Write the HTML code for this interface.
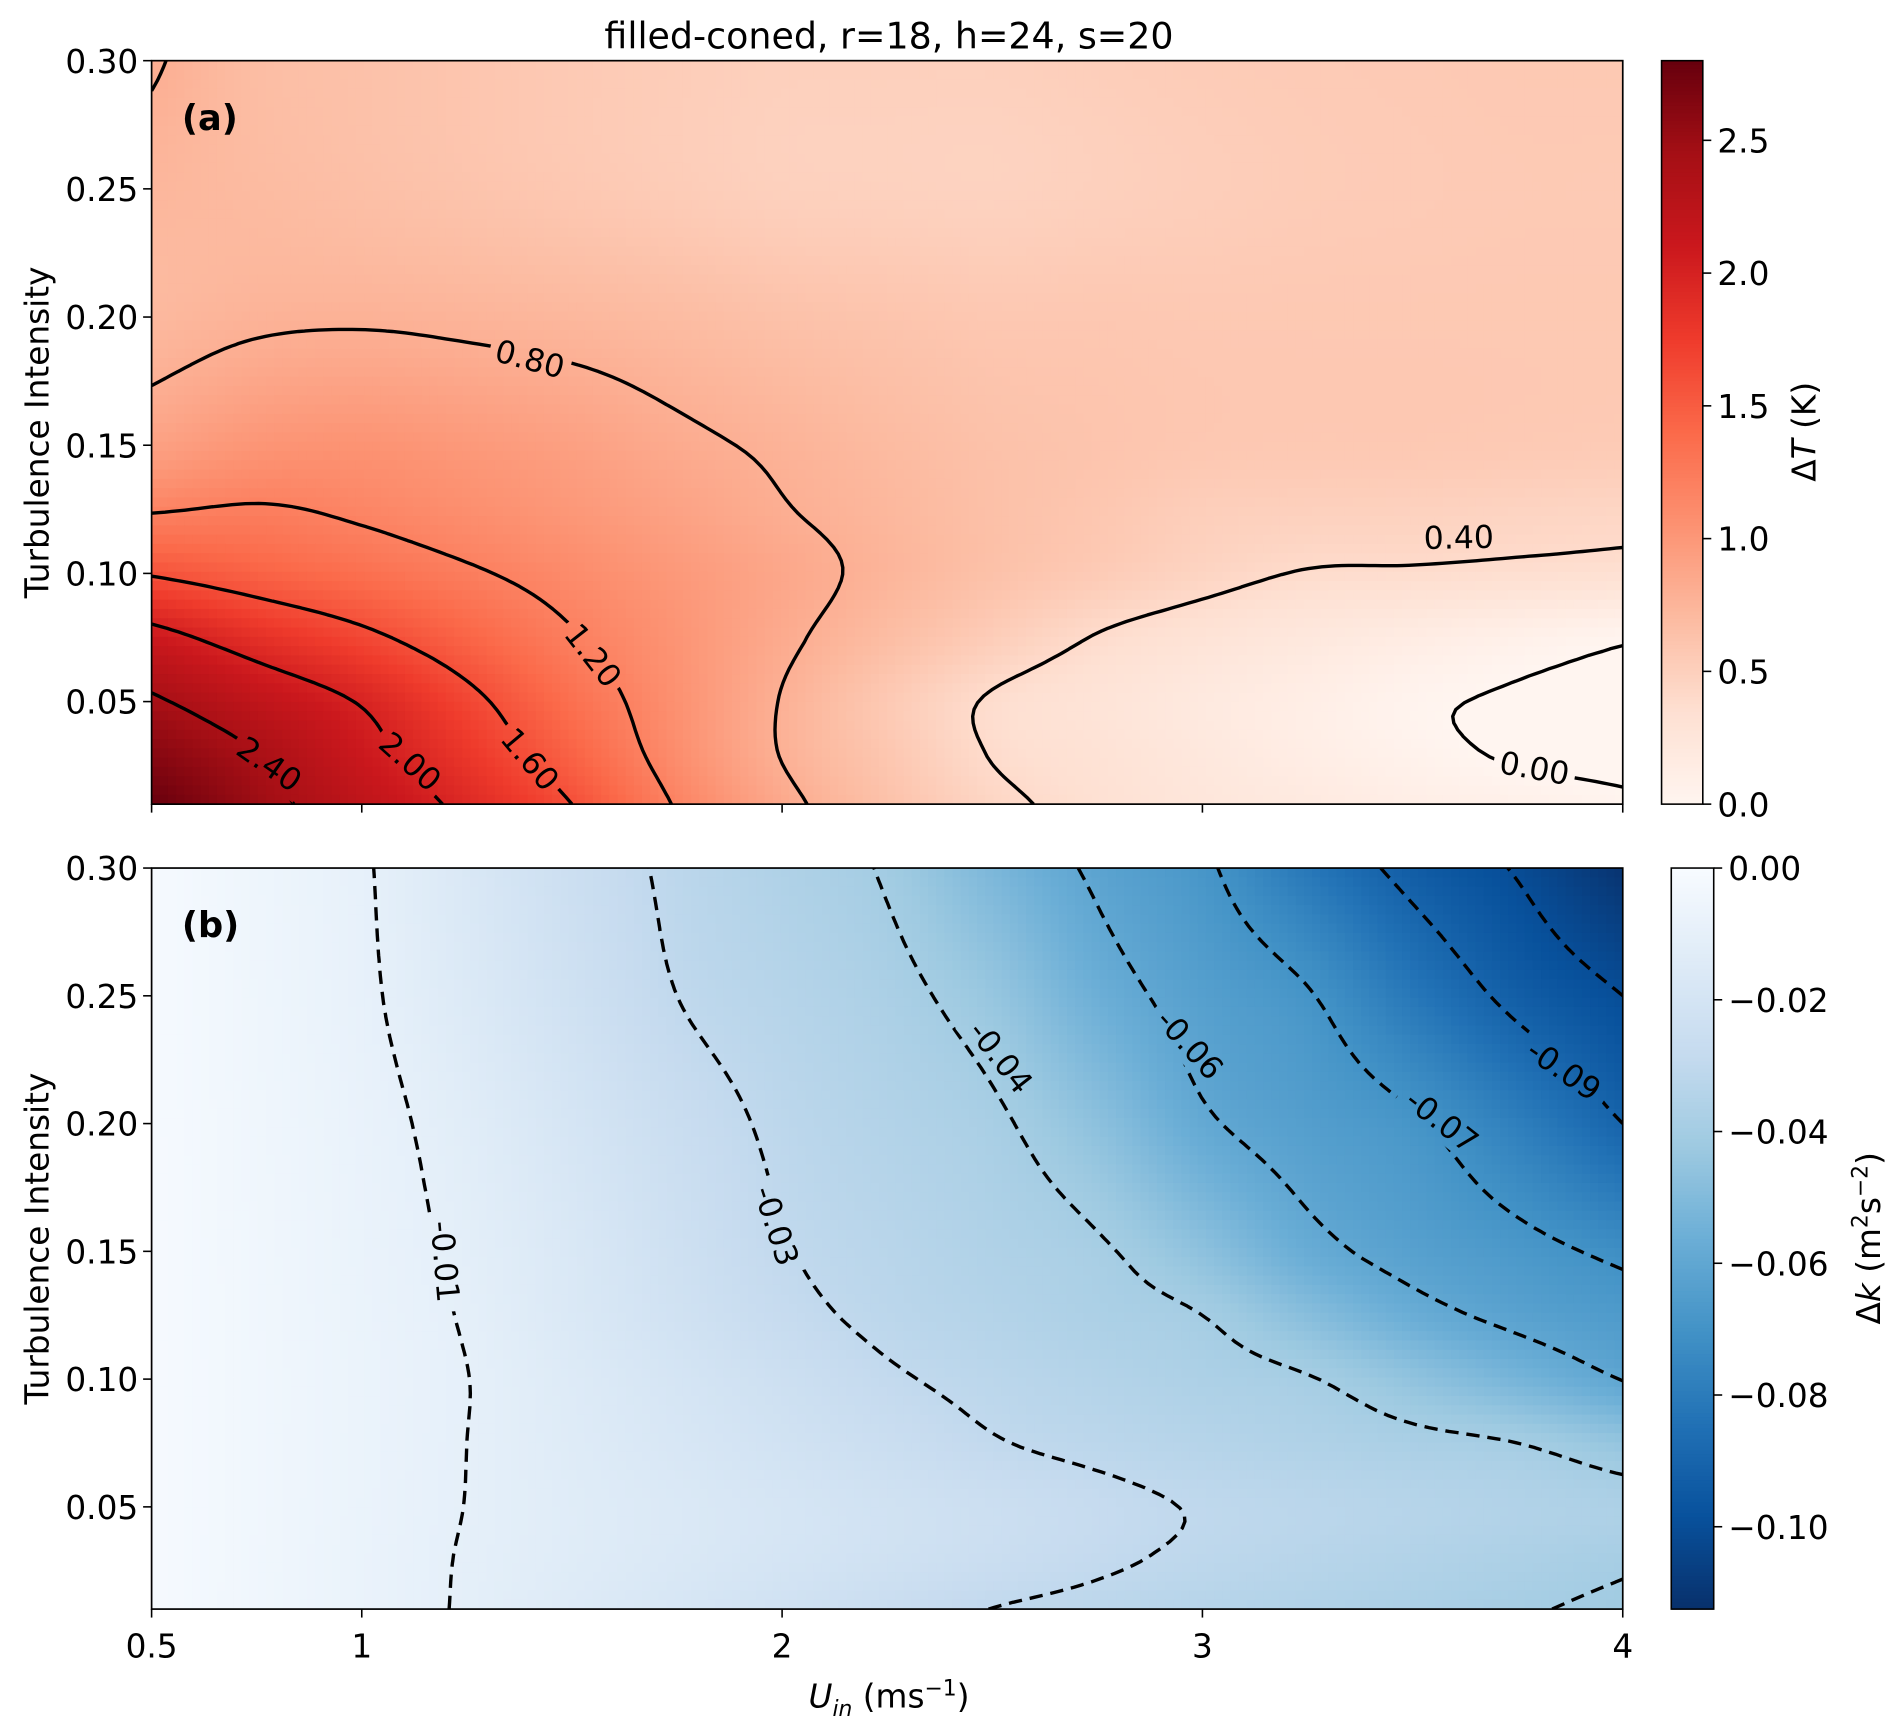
<!DOCTYPE html>
<html><head><meta charset="utf-8"><style>
html,body{margin:0;padding:0;background:#fff;}
svg{display:block;font-family:"DejaVu Sans","Liberation Sans",sans-serif;}
</style></head><body>
<svg id="fig" width="1892" height="1723" viewBox="0 0 1560 1420.6" xmlns="http://www.w3.org/2000/svg">
<text x="733" y="40" font-size="30" text-anchor="middle">filled-coned, r=18, h=24, s=20</text>
<g id="panelA"></g>
<g id="panelB"></g>
<g id="axes"></g>
</svg>
<script>
// ---- data ----
const xGrid=[0.5,0.75,1.0,1.25,1.5,1.75,2.0,2.25,2.5,2.75,3.0,3.25,3.5,3.75,4.0];
const yGrid=[0.01,0.03,0.05,0.075,0.10,0.125,0.15,0.20,0.25,0.30];
const deltaT=[
[2.80,2.50,2.22,1.93,1.60,1.18,0.86,0.64,0.45,0.34,0.25,0.19,0.12,0.08,0.03],
[2.62,2.40,2.10,1.79,1.45,1.09,0.79,0.59,0.39,0.31,0.22,0.13,0.05,-0.02,-0.05],
[2.44,2.21,1.98,1.67,1.35,1.06,0.79,0.57,0.38,0.29,0.20,0.12,0.03,-0.02,-0.04],
[2.10,1.86,1.66,1.44,1.22,1.03,0.84,0.68,0.53,0.39,0.30,0.22,0.15,0.08,0.02],
[1.58,1.46,1.35,1.23,1.11,0.99,0.87,0.75,0.64,0.55,0.46,0.39,0.38,0.36,0.34],
[1.18,1.22,1.16,1.08,1.00,0.91,0.81,0.73,0.65,0.59,0.52,0.50,0.49,0.47,0.45],
[0.92,1.02,1.04,0.99,0.93,0.84,0.77,0.70,0.64,0.61,0.58,0.57,0.57,0.56,0.55],
[0.72,0.77,0.78,0.76,0.73,0.69,0.64,0.61,0.58,0.58,0.57,0.57,0.57,0.57,0.57],
[0.74,0.70,0.66,0.62,0.58,0.54,0.50,0.49,0.48,0.50,0.52,0.54,0.55,0.56,0.56],
[0.82,0.68,0.64,0.60,0.56,0.53,0.50,0.50,0.50,0.52,0.54,0.55,0.56,0.57,0.57]];
const deltaK=[
[-0.001,-0.0042,-0.0073,-0.0106,-0.0146,-0.0185,-0.0224,-0.0264,-0.0301,-0.0320,-0.0338,-0.0356,-0.0374,-0.0393,-0.0415],
[-0.001,-0.0041,-0.0073,-0.0104,-0.0134,-0.0165,-0.0196,-0.0226,-0.0257,-0.0288,-0.0312,-0.0331,-0.0351,-0.0370,-0.0390],
[-0.001,-0.0040,-0.0071,-0.0101,-0.0132,-0.0161,-0.0191,-0.0221,-0.0250,-0.0280,-0.0305,-0.0322,-0.0338,-0.0354,-0.0370],
[-0.001,-0.0040,-0.0070,-0.0100,-0.0139,-0.0178,-0.0217,-0.0256,-0.0295,-0.0318,-0.0339,-0.0359,-0.0380,-0.0400,-0.0450],
[-0.001,-0.0040,-0.0069,-0.0099,-0.0146,-0.0194,-0.0242,-0.0290,-0.0320,-0.0345,-0.0370,-0.0395,-0.0458,-0.0530,-0.0603],
[-0.001,-0.0041,-0.0072,-0.0105,-0.0162,-0.0220,-0.0277,-0.0317,-0.0344,-0.0372,-0.0400,-0.0483,-0.0567,-0.0623,-0.0660],
[-0.001,-0.0042,-0.0074,-0.0112,-0.0168,-0.0234,-0.0295,-0.0328,-0.0359,-0.0389,-0.0467,-0.0571,-0.0630,-0.0671,-0.0720],
[-0.001,-0.0045,-0.0079,-0.0127,-0.0193,-0.0260,-0.0314,-0.0350,-0.0386,-0.0470,-0.0586,-0.0642,-0.0689,-0.0786,-0.0900],
[-0.001,-0.0049,-0.0089,-0.0153,-0.0227,-0.0300,-0.0338,-0.0376,-0.0442,-0.0558,-0.0636,-0.0693,-0.0816,-0.0926,-0.1000],
[-0.001,-0.0052,-0.0093,-0.0168,-0.0248,-0.0316,-0.0360,-0.0409,-0.0517,-0.0616,-0.0684,-0.0815,-0.0932,-0.1008,-0.1110]];
const levelsA=[0.0,0.4,0.8,1.2,1.6,2.0,2.4];
const levelsB=[-0.01,-0.03,-0.04,-0.06,-0.07,-0.09,-0.10];
const labelsA=["0.80","0.40","1.20","1.60","2.00","2.40","0.00"];
const labelAX=[1.40,3.61,1.55,1.40,1.115,0.78,3.79];
const labelAY=[0.1836,0.114,0.068,0.0275,0.0266,0.0256,0.024];
const labelARot=[15,-1,52,50,42,35,10];
const labelsB=["-0.01","-0.03","-0.04","-0.06","-0.07","-0.09"];
const labelBX=[1.198,1.986,2.52,2.97,3.57,3.86];
const labelBY=[0.146,0.160,0.226,0.231,0.201,0.221];
const labelBRot=[85,72,52,48,38,35];
const xTicks=[0.5,1,2,3,4];
const xTickLabels=["0.5","1","2","3","4"];
const yTicks=[0.05,0.10,0.15,0.20,0.25,0.30];
const yTickLabels=["0.05","0.10","0.15","0.20","0.25","0.30"];
const cbATicks=[0.0,0.5,1.0,1.5,2.0,2.5];
const cbATickLabels=["0.0","0.5","1.0","1.5","2.0","2.5"];
const cbBTicks=[0.00,-0.02,-0.04,-0.06,-0.08,-0.10];
const cbBTickLabels=["0.00","\u22120.02","\u22120.04","\u22120.06","\u22120.08","\u22120.10"];

// ---- layout ----
const NS="http://www.w3.org/2000/svg";
const X0=125,X1=1338;
const A={top:50,bot:663,vmin:0,vmax:2.8};
const B={top:715.7,bot:1326.7,vmin:-0.1125,vmax:0};
const xMin=0.5,xMax=4,yMin=0.01,yMax=0.30;
function sx(x){return X0+(x-xMin)/(xMax-xMin)*(X1-X0);}
function syF(p){return y=>p.bot-(y-yMin)/(yMax-yMin)*(p.bot-p.top);}
const REDS=["#fff5f0","#fee0d2","#fcbba1","#fc9272","#fb6a4a","#ef3b2c","#cb181d","#a50f15","#67000d"];
const BLUES=["#f7fbff","#deebf7","#c6dbef","#9ecae1","#6baed6","#4292c6","#2171b5","#08519c","#08306b"];
function hex(h){return [1,3,5].map(i=>parseInt(h.substr(i,2),16));}
function cmap(pal,t){t=Math.max(0,Math.min(1,t));const f=t*(pal.length-1);const i=Math.min(pal.length-2,Math.floor(f));const u=f-i;
 const a=hex(pal[i]),b=hex(pal[i+1]);return "rgb("+a.map((v,k)=>Math.round(v+(b[k]-v)*u)).join(",")+")";}
function mk(tag,attrs,parent){const e=document.createElementNS(NS,tag);for(const k in attrs)e.setAttribute(k,attrs[k]);if(parent)parent.appendChild(e);return e;}
function findIdx(arr,v){let i=0;while(i<arr.length-2&&v>arr[i+1])i++;return i;}
// cubic Hermite 1D on nonuniform nodes
function herm(t,f,v){const n=t.length;const i=findIdx(t,v);
 const slope=k=>{if(k===0)return (f[1]-f[0])/(t[1]-t[0]);if(k===n-1)return (f[n-1]-f[n-2])/(t[n-1]-t[n-2]);
   return (f[k+1]-f[k-1])/(t[k+1]-t[k-1]);};
 const h=t[i+1]-t[i],s=(v-t[i])/h;const s2=s*s,s3=s2*s;
 return (2*s3-3*s2+1)*f[i]+(s3-2*s2+s)*h*slope(i)+(-2*s3+3*s2)*f[i+1]+(s3-s2)*h*slope(i+1);}
function interp(Z,x,y){const col=Z.map(row=>herm(xGrid,row,x));return herm(yGrid,col,y);}

function drawPanel(g,p,Z,pal,reverse,levels,dashed,labs,lx,ly,lr,id){
 const sy=syF(p);
 const NX=180,NY=80;
 const heat=mk("g",{},g);
 
 
 const cw=(X1-X0)/NX,ch=(p.bot-p.top)/NY;
 for(let j=0;j<NY;j++)for(let i=0;i<NX;i++){
  const x=xMin+(i+0.5)/NX*(xMax-xMin),y=yMax-(j+0.5)/NY*(yMax-yMin);
  const v=interp(Z,x,y);let t=(v-p.vmin)/(p.vmax-p.vmin);if(reverse)t=1-t;
  const r=mk("rect",{x:(X0+i*cw).toFixed(2),y:(p.top+j*ch).toFixed(2),width:(cw+0.6).toFixed(2),height:(ch+0.6).toFixed(2),fill:cmap(pal,t)},heat);
  
  
 }
 const defs=mk("defs",{},g);
 const mask=mk("mask",{id:"m"+id,maskUnits:"userSpaceOnUse",x:0,y:0,width:1560,height:1421},defs);
 mk("rect",{x:0,y:0,width:1560,height:1421,fill:"#fff"},mask);
 labs.forEach((s,k)=>{const cx=sx(lx[k]),cy=sy(ly[k]);const w=s.length*15+8;
  mk("rect",{x:cx-w/2,y:cy-15,width:w,height:30,fill:"#000",transform:`rotate(${lr[k]} ${cx} ${cy})`},mask);});
 const cg=mk("g",{mask:`url(#m${id})`,"clip-path":`url(#c${id})`},g);
 const clip=mk("clipPath",{id:"c"+id},defs);mk("rect",{x:X0,y:p.top,width:X1-X0,height:p.bot-p.top},clip);
 const MX=220,MY=110;
 const gx=i=>xMin+i/MX*(xMax-xMin),gy=j=>yMin+j/MY*(yMax-yMin);
 const V=[];for(let j=0;j<=MY;j++){const row=[];for(let i=0;i<=MX;i++)row.push(interp(Z,gx(i),gy(j)));V.push(row);}
 levels.forEach(L=>{
  const pts={},adj={};
  function pt(type,i,j){const k=type+i+","+j;if(!pts[k]){let x,y;
    if(type==="h"){const a=V[j][i],b=V[j][i+1];const u=(L-a)/(b-a);x=gx(i+u);y=gy(j);}
    else{const a=V[j][i],b=V[j+1][i];const u=(L-a)/(b-a);x=gx(i);y=gy(j+u);}
    pts[k]=[sx(x),sy(y)];}return k;}
  function link(a,b){(adj[a]=adj[a]||[]).push(b);(adj[b]=adj[b]||[]).push(a);}
  for(let j=0;j<MY;j++)for(let i=0;i<MX;i++){
   const v0=V[j][i],v1=V[j][i+1],v2=V[j+1][i+1],v3=V[j+1][i];
   const c=(v0>L?1:0)|(v1>L?2:0)|(v2>L?4:0)|(v3>L?8:0);
   if(c===0||c===15)continue;
   const eB=()=>pt("h",i,j),eT=()=>pt("h",i,j+1),eL=()=>pt("v",i,j),eR=()=>pt("v",i+1,j);
   const map={1:[[eL,eB]],2:[[eB,eR]],3:[[eL,eR]],4:[[eR,eT]],6:[[eB,eT]],7:[[eL,eT]],8:[[eL,eT]],9:[[eB,eT]],11:[[eR,eT]],12:[[eL,eR]],13:[[eB,eR]],14:[[eL,eB]]};
   let segs=map[c];
   if(c===5||c===10){const ctr=(v0+v1+v2+v3)/4>L;
    if(c===5)segs=ctr?[[eL,eT],[eB,eR]]:[[eL,eB],[eR,eT]];
    else segs=ctr?[[eL,eB],[eR,eT]]:[[eL,eT],[eB,eR]];}
   segs.forEach(s=>link(s[0](),s[1]()));
  }
  const used={};
  const keys=Object.keys(adj);
  const ends=keys.filter(k=>adj[k].length===1);
  function walk(start){const chain=[start];used[start]=1;let cur=start;
   while(true){const nx=(adj[cur]||[]).find(n=>!used[n]);if(!nx)break;used[nx]=1;chain.push(nx);cur=nx;}return chain;}
  const chains=[];ends.forEach(k=>{if(!used[k])chains.push(walk(k));});
  keys.forEach(k=>{if(!used[k]){const c=walk(k);c.push(c[0]);chains.push(c);}});
  chains.forEach(c=>{if(c.length<2)return;
   const d="M"+c.map(k=>pts[k][0].toFixed(1)+","+pts[k][1].toFixed(1)).join("L");
   const path=mk("path",{d:d,fill:"none",stroke:"#000","stroke-width":2.8,"stroke-linejoin":"round","stroke-dasharray":dashed?"11,6.5":"none"},cg);
   
   
  });
 });
 labs.forEach((s,k)=>{const cx=sx(lx[k]),cy=sy(ly[k]);
  const t=mk("text",{x:cx,y:cy+9,"font-size":26,"text-anchor":"middle",transform:`rotate(${lr[k]} ${cx} ${cy})`},g);
  t.textContent=s;
  
  
 });
 const fr=mk("rect",{x:X0,y:p.top,width:X1-X0,height:p.bot-p.top,fill:"none",stroke:"#000","stroke-width":1.4},g);
 
 
 xTicks.forEach((v,k)=>{const x=sx(v);mk("line",{x1:x,x2:x,y1:p.bot,y2:p.bot+7,stroke:"#000","stroke-width":1.3},g);
  if(id==="B"){const t=mk("text",{x:x,y:p.bot+40,"font-size":27,"text-anchor":"middle"},g);t.textContent=xTickLabels[k];
   
   }});
 yTicks.forEach((v,k)=>{const y=sy(v);mk("line",{x1:X0-7,x2:X0,y1:y,y2:y,stroke:"#000","stroke-width":1.3},g);
  const t=mk("text",{x:X0-11,y:y+10,"font-size":27,"text-anchor":"end"},g);t.textContent=yTickLabels[k];
  
  });
 const yc=(p.top+p.bot)/2;
 const yl=mk("text",{x:40,y:yc,"font-size":27,"text-anchor":"middle",transform:`rotate(-90 40 ${yc})`},g);
 yl.textContent="Turbulence Intensity";
 
 
 const pl=mk("text",{x:150,y:p.top+57,"font-size":29,"font-weight":"bold"},g);
 pl.textContent=id==="A"?"(a)":"(b)";
 
 
}
function colorbar(g,p,x0,w,pal,reverse,ticks,tlabels,name){
 const sy=v=>p.bot-(v-p.vmin)/(p.vmax-p.vmin)*(p.bot-p.top);
 const N=200,h=(p.bot-p.top)/N;
 for(let i=0;i<N;i++){let t=(i+0.5)/N;const c=cmap(pal,reverse?1-t:t);
  mk("rect",{x:x0,y:p.bot-(i+1)*h,width:w,height:h+0.5,fill:c},g);}
 const fr=mk("rect",{x:x0,y:p.top,width:w,height:p.bot-p.top,fill:"none",stroke:"#000","stroke-width":1.3},g);
 
 
 ticks.forEach((v,k)=>{const y=sy(v);mk("line",{x1:x0+w,x2:x0+w+7,y1:y,y2:y,stroke:"#000","stroke-width":1.3},g);
  const t=mk("text",{x:x0+w+12,y:y+10,"font-size":27},g);t.textContent=tlabels[k];
  
  });
}
const gA=document.getElementById("panelA"),gB=document.getElementById("panelB"),gX=document.getElementById("axes");
drawPanel(gA,A,deltaT,REDS,false,levelsA,false,labelsA,labelAX,labelAY,labelARot,"A");
drawPanel(gB,B,deltaK,BLUES,true,levelsB,true,labelsB,labelBX,labelBY,labelBRot,"B");
colorbar(gA,A,1370,34,REDS,false,cbATicks,cbATickLabels,"colorbar-delta-t");
colorbar(gB,B,1378,35,BLUES,true,cbBTicks,cbBTickLabels,"colorbar-delta-k");
const ct=mk("text",{x:1497,y:356,"font-size":27,"text-anchor":"middle",transform:"rotate(-90 1497 356)"},gX);
ct.innerHTML='Δ<tspan font-style="italic">T</tspan> (K)';


const cb=mk("text",{x:1550,y:1021,"font-size":27,"text-anchor":"middle",transform:"rotate(-90 1550 1021)"},gX);
cb.innerHTML='Δ<tspan font-style="italic">k</tspan> (m<tspan dy="-10" font-size="18">2</tspan><tspan dy="10">s</tspan><tspan dy="-10" font-size="18">−2</tspan><tspan dy="10">)</tspan>';


const xl=mk("text",{x:733,y:1408,"font-size":27,"text-anchor":"middle"},gX);
xl.innerHTML='<tspan font-style="italic">U</tspan><tspan font-style="italic" font-size="18" dy="7">in</tspan><tspan dy="-7"> (ms</tspan><tspan dy="-10" font-size="18">−1</tspan><tspan dy="10">)</tspan>';


</script>
</body></html>
